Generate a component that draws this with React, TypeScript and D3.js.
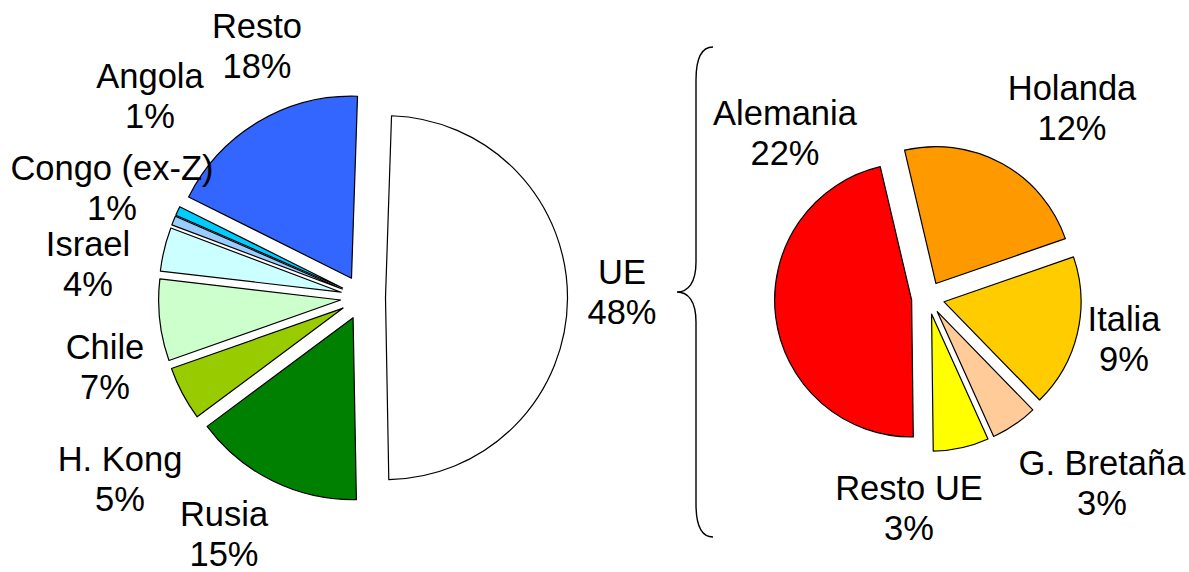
import React from "react";
import * as d3 from "d3";

// main pie (share of total)
const mainNames = ["UE", "Rusia", "H. Kong", "Chile", "Israel", "Congo (ex-Z)", "Angola", "Resto"];
const mainValues = [48.2, 14.8, 4.7, 7.1, 3.8, 0.8, 0.8, 17.8];
const mainLabels = ["48%", "15%", "5%", "7%", "4%", "1%", "1%", "18%"];
const mainColors = ["#FFFFFF", "#008000", "#99CC00", "#CCFFCC", "#CCFFFF", "#99CCFF", "#00CCFF", "#3366FF"];

// breakdown of UE
const subNames = ["Alemania", "Holanda", "Italia", "G. Bretaña", "Resto UE"];
const subValues = [22.7, 11.4, 8.8, 2.7, 3.2];
const subLabels = ["22%", "12%", "9%", "3%", "3%"];
const subColors = ["#FF0000", "#FF9900", "#FFCC00", "#FFCC99", "#FFFF00"];

// label anchor points (centre x, first baseline)
const mainLabelPos: [number, number][] = [
  [622, 284], [224, 526], [120, 471], [105, 359], [88, 256], [112, 180], [150, 88], [257, 38],
];
const subLabelPos: [number, number][] = [
  [785, 125], [1072, 100], [1124, 331], [1102, 475], [909, 500],
];

const deg = Math.PI / 180;
const lineGap = 40;

function Pie({ values, colors, cx, cy, r, explode, start }: any) {
  const pie = d3.pie<number>().sort(null).value((d) => d)
    .startAngle(start * deg).endAngle(start * deg + 2 * Math.PI);
  const arc = d3.arc<d3.PieArcDatum<number>>().innerRadius(0).outerRadius(r);
  const arcs = pie(values);
  return (
    <g transform={`translate(${cx},${cy})`}>
      {arcs.map((a, i) => {
        const mid = (a.startAngle + a.endAngle) / 2;
        const dx = Math.sin(mid) * explode;
        const dy = -Math.cos(mid) * explode;
        return (
          <path key={i} d={arc(a) || ""} transform={`translate(${dx},${dy})`}
            fill={colors[i]} stroke="#000" strokeWidth={1.2} strokeLinejoin="round" />
        );
      })}
    </g>
  );
}

function Labels({ names, pcts, pos }: any) {
  return (
    <g fontFamily="'Liberation Sans', Arial, sans-serif" fontSize={34.5} fill="#000" textAnchor="middle">
      {names.map((n: string, i: number) => (
        <text key={i} x={pos[i][0]} y={pos[i][1]}>
          <tspan x={pos[i][0]}>{n}</tspan>
          <tspan x={pos[i][0]} dy={lineGap}>{pcts[i]}</tspan>
        </text>
      ))}
    </g>
  );
}

export default function App() {
  const brace = d3.path();
  brace.moveTo(713, 47);
  brace.bezierCurveTo(701, 47, 696, 60, 696, 80);
  brace.lineTo(696, 262);
  brace.bezierCurveTo(696, 283, 688, 292, 677, 292);
  brace.bezierCurveTo(688, 292, 696, 301, 696, 322);
  brace.lineTo(696, 504);
  brace.bezierCurveTo(696, 524, 701, 537, 713, 537);

  return (
    <svg width={1189} height={572} style={{ position: "absolute", left: 0, top: 0, background: "#fff" }}>
      <Pie values={mainValues} colors={mainColors} cx={363} cy={297.5} r={182} explode={22.5} start={1.9} />
      <Pie values={subValues} colors={subColors} cx={928} cy={298} r={137} explode={16.5} start={179.3} />
      <path d={brace.toString()} fill="none" stroke="#000" strokeWidth={1.4} />
      <Labels names={mainNames} pcts={mainLabels} pos={mainLabelPos} />
      <Labels names={subNames} pcts={subLabels} pos={subLabelPos} />
    </svg>
  );
}
